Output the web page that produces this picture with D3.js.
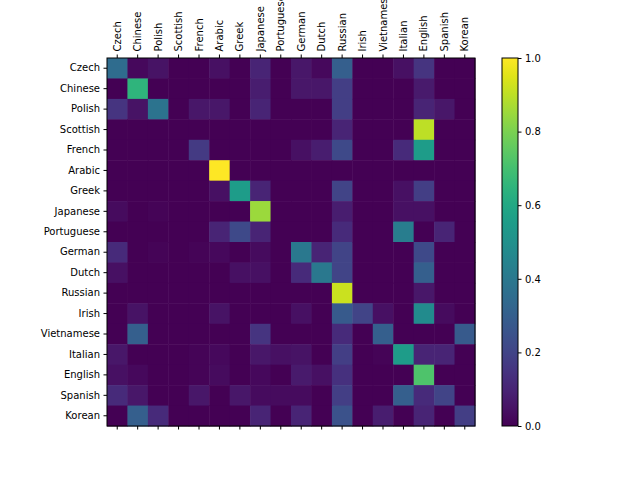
<!DOCTYPE html>
<html><head><meta charset="utf-8">
<script src="https://cdn.jsdelivr.net/npm/d3@7"></script>
<style>body{margin:0;background:#fff}</style>
</head><body>
<svg id="chart" width="640" height="480"></svg>
<script>
// ─── Data ────────────────────────────────────────────────────────────────────
const categories = ['Czech','Chinese','Polish','Scottish','French','Arabic','Greek','Japanese',
  'Portuguese','German','Dutch','Russian','Irish','Vietnamese','Italian','English','Spanish','Korean'];

const matrix = [
  [.35,.02,.05,0,0,.04,0,.1,0,.06,.02,.3,0,0,.04,.15,0,0],
  [0,.65,0,0,0,0,0,.08,0,.06,.06,.18,0,0,0,.07,0,0],
  [.15,.05,.38,0,.06,.06,0,.1,0,0,0,.18,0,0,0,.1,.06,0],
  [0,0,0,0,0,0,0,0,0,0,0,.1,0,0,0,.9,0,0],
  [0,0,0,0,.17,0,0,0,0,.04,.08,.22,0,0,.12,.55,0,0],
  [0,0,0,0,0,1,0,0,0,0,0,0,0,0,0,0,0,0],
  [0,0,0,0,0,.04,.55,.1,0,0,0,.2,0,0,.04,.18,0,0],
  [.03,0,.01,0,0,0,0,.85,0,0,0,.08,0,0,.04,.04,0,0],
  [0,0,0,0,0,.1,.22,.1,0,0,0,.12,0,0,.42,0,.1,0],
  [.12,0,.01,0,.01,.02,0,.03,0,.4,.1,.2,0,0,0,.22,0,0],
  [.04,0,0,0,0,0,.04,.04,0,.12,.4,.2,0,0,0,.3,0,0],
  [0,0,0,0,0,0,0,0,0,0,0,.92,0,0,0,.06,0,0],
  [0,.05,0,0,0,.05,0,0,0,.04,0,.28,.2,.04,0,.48,.03,0],
  [0,.3,0,0,0,0,0,.15,0,0,0,.12,0,.3,0,0,0,.28],
  [.06,0,0,0,.01,.02,0,.06,.04,.05,0,.18,0,.01,.55,.1,.1,0],
  [.04,.02,0,0,.01,.03,0,.02,0,.07,.04,.14,0,0,0,.72,0,0],
  [.12,.06,0,0,.06,0,.06,.03,.03,.03,0,.18,0,0,.3,.12,.2,0],
  [0,.3,.12,0,0,0,0,.1,0,.1,0,.25,0,.08,0,.1,0,.18]
];
const cbTicks = [0, 0.2, 0.4, 0.6, 0.8, 1.0];

// ─── Setup ───────────────────────────────────────────────────────────────────
const svg = d3.select('#chart');
const mLeft = 107, mTop = 58, size = 368;
const font = 'DejaVu Sans, sans-serif';

const x = d3.scaleBand().domain(categories).range([mLeft, mLeft + size]);
const y = d3.scaleBand().domain(categories).range([mTop, mTop + size]);
const color = d3.scaleSequential(d3.interpolateViridis).domain([0, 1]);

const cells = [];
matrix.forEach((row, i) => row.forEach((v, j) => cells.push({ r: categories[i], c: categories[j], v })));

svg.append('g').selectAll('rect').data(cells).join('rect')
  .attr('x', d => x(d.c)).attr('y', d => y(d.r))
  .attr('width', x.bandwidth() + 0.5).attr('height', y.bandwidth() + 0.5)
  .attr('fill', d => color(d.v));

// ─── Axes ────────────────────────────────────────────────────────────────────
const topAxis = svg.append('g').attr('transform', `translate(0,${mTop})`)
  .call(d3.axisTop(x).tickSize(3.5).tickPadding(3.5));
topAxis.selectAll('text')
  .attr('transform', 'rotate(-90)').attr('text-anchor', 'start')
  .attr('x', 6.5).attr('y', 0).attr('dy', '0.35em');

svg.append('g').attr('transform', `translate(0,${mTop + size})`)
  .call(d3.axisBottom(x).tickSize(3.5).tickFormat(''));

svg.append('g').attr('transform', `translate(${mLeft},0)`)
  .call(d3.axisLeft(y).tickSize(3.5).tickPadding(3.5));

svg.selectAll('.domain').remove();
svg.selectAll('.tick text').attr('font-family', font).attr('font-size', 10).attr('fill', '#000');
svg.selectAll('.tick line').attr('stroke', '#000');

svg.append('rect').attr('x', mLeft).attr('y', mTop).attr('width', size).attr('height', size)
  .attr('fill', 'none').attr('stroke', '#000').attr('stroke-width', 1);

// ─── Colorbar ────────────────────────────────────────────────────────────────
const cbX = 502, cbW = 16;
const cy = d3.scaleLinear().domain([0, 1]).range([mTop + size, mTop]);
const grad = svg.append('defs').append('linearGradient').attr('id', 'cb')
  .attr('x1', 0).attr('y1', 1).attr('x2', 0).attr('y2', 0);
d3.range(0, 1.001, 0.05).forEach(t =>
  grad.append('stop').attr('offset', t).attr('stop-color', color(t)));
svg.append('rect').attr('x', cbX).attr('y', mTop).attr('width', cbW).attr('height', size)
  .attr('fill', 'url(#cb)').attr('stroke', '#000');
const cbAxis = svg.append('g').attr('transform', `translate(${cbX + cbW},0)`)
  .call(d3.axisRight(cy).tickValues(cbTicks).tickFormat(d3.format('.1f')).tickSize(3.5).tickPadding(3.5));
cbAxis.select('.domain').remove();
cbAxis.selectAll('text').attr('font-family', font).attr('font-size', 10);
</script>
</body></html>
